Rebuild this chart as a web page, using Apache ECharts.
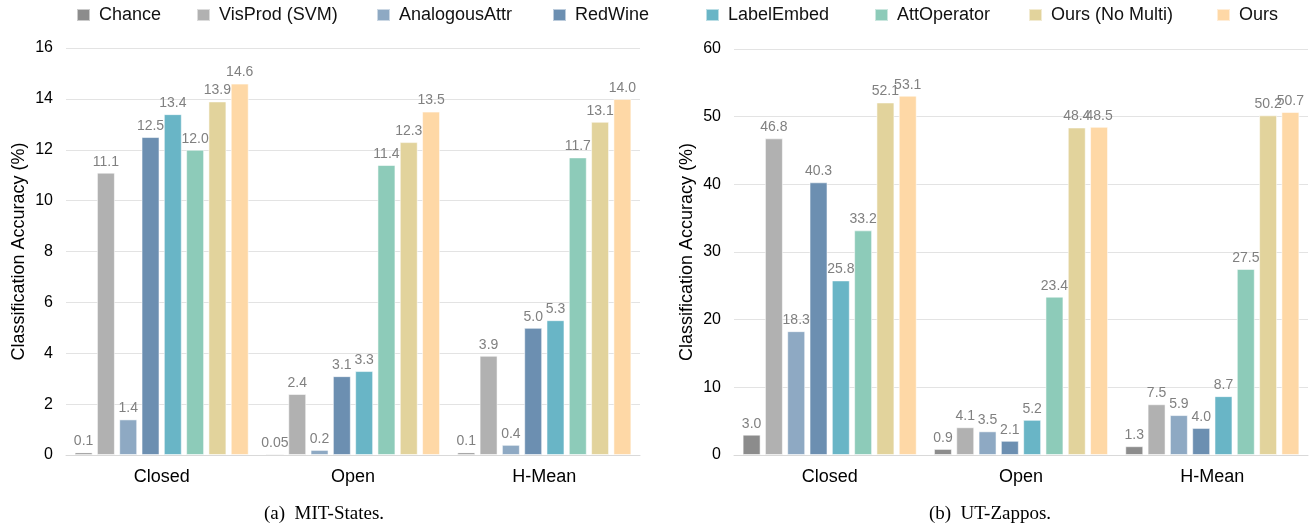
<!DOCTYPE html>
<html>
<head>
<meta charset="utf-8">
<script src="https://cdn.jsdelivr.net/npm/echarts@6/dist/echarts.min.js"></script>
<style>
html,body{margin:0;padding:0;background:#fff;}
#c{width:1315px;height:527px;}
</style>
</head>
<body>
<div id="c"></div>
<script>
// ---- Data ----
const methods = ['Chance','VisProd (SVM)','AnalogousAttr','RedWine','LabelEmbed','AttOperator','Ours (No Multi)','Ours'];
const categories = ['Closed','Open','H-Mean'];
// MIT-States values per category (one per method)
const mitClosed = [0.1, 11.1, 1.4, 12.5, 13.4, 12.0, 13.9, 14.6];
const mitOpen   = [0.05, 2.4, 0.2, 3.1, 3.3, 11.4, 12.3, 13.5];
const mitHMean  = [0.1, 3.9, 0.4, 5.0, 5.3, 11.7, 13.1, 14.0];
// UT-Zappos values per category
const utClosed = [3.0, 46.8, 18.3, 40.3, 25.8, 33.2, 52.1, 53.1];
const utOpen   = [0.9, 4.1, 3.5, 2.1, 5.2, 23.4, 48.4, 48.5];
const utHMean  = [1.3, 7.5, 5.9, 4.0, 8.7, 27.5, 50.2, 50.7];
const mitTicks = {min:0, max:16, interval:2};
const utTicks = {min:0, max:60, interval:10};
const captions = ['(a)  MIT-States.', '(b)  UT-Zappos.'];

const colors = ['#8c8c8c','#b1b1b1','#8ea9c3','#6c8fb1','#69b5c6','#8dcbb9','#e2d39c','#fed8a6'];
const legendLeft = [76, 196, 376, 552, 705, 874, 1028, 1216];
const FONT = 'Liberation Sans, Arial, sans-serif';

function fmt(v){ return v < 0.1 ? String(v) : v.toFixed(1); }

const chart = echarts.init(document.getElementById('c'), null, {renderer:'canvas'});
const series = [];
[[mitClosed,mitOpen,mitHMean],[utClosed,utOpen,utHMean]].forEach((rows, gi) => {
  methods.forEach((m, mi) => {
    series.push({
      type:'bar', name:m, xAxisIndex:gi, yAxisIndex:gi,
      data: rows.map(r => r[mi]),
      barGap:'24%', barCategoryGap:'9%', barMinHeight:1,
      itemStyle:{color:colors[mi], borderColor:'rgba(255,255,255,0.55)', borderWidth:1},
      label:{show:true, position:'top', distance:4, color:'#808080', fontSize:14, fontFamily:FONT,
        formatter: p => fmt(p.value)},
      emphasis:{disabled:true}, animation:false
    });
  });
});

function xAxis(gi){
  return {type:'category', gridIndex:gi, data:categories,
    axisLine:{lineStyle:{color:'#d9d9d9', width:1}}, axisTick:{show:false},
    axisLabel:{color:'#000', fontSize:18, fontFamily:FONT, margin:13}};
}
function yAxis(gi, t){
  return {type:'value', gridIndex:gi, min:t.min, max:t.max, interval:t.interval,
    name:'Classification Accuracy (%)', nameLocation:'middle', nameGap:38,
    nameTextStyle:{color:'#000', fontSize:18, fontFamily:FONT},
    axisLine:{show:false}, axisTick:{show:false},
    axisLabel:{color:'#000', fontSize:16, fontFamily:FONT, margin:13},
    splitLine:{lineStyle:{color:'#e3e3e3', width:1}}};
}

const legends = methods.map((m, i) => ({
  data:[m], left:legendLeft[i], top:6, padding:0, itemWidth:13, itemHeight:12,
  icon:'rect', selectedMode:false,
  textStyle:{color:'#111', fontSize:18, fontFamily:FONT, padding:[0,0,0,4]}
}));

chart.setOption({
  animation:false,
  legend: legends,
  grid:[
    {left:66, top:48, width:574, height:407},
    {left:734, top:49, width:574, height:406}
  ],
  xAxis:[xAxis(0), xAxis(1)],
  yAxis:[yAxis(0, mitTicks), yAxis(1, utTicks)],
  series: series,
  graphic:[
    {type:'text', style:{text:captions[0], x:324, y:514, textAlign:'center', textVerticalAlign:'middle', font:'19px "Liberation Serif", "Times New Roman", serif', fill:'#000'}},
    {type:'text', style:{text:captions[1], x:990, y:514, textAlign:'center', textVerticalAlign:'middle', font:'19px "Liberation Serif", "Times New Roman", serif', fill:'#000'}}
  ]
});
</script>
</body>
</html>
